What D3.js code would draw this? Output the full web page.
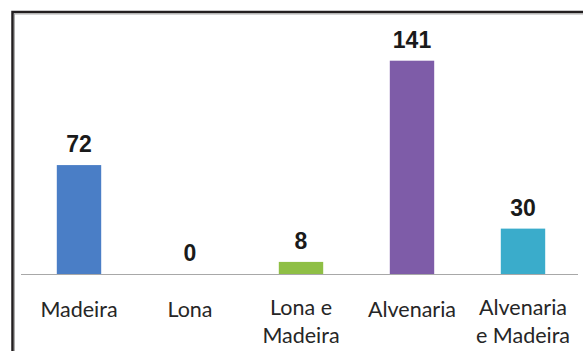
<!DOCTYPE html>
<html>
<head>
<meta charset="utf-8">
<script src="https://cdn.jsdelivr.net/npm/d3@7"></script>
<style>
  html, body { margin: 0; padding: 0; background: #fff; }
  svg { display: block; }
</style>
</head>
<body>
<svg id="chart" width="583" height="351"></svg>
<script>
const categories = ["Madeira", "Lona", "Lona e Madeira", "Alvenaria", "Alvenaria e Madeira"];
const labelLines = [["Madeira"], ["Lona"], ["Lona e", "Madeira"], ["Alvenaria"], ["Alvenaria", "e Madeira"]];
const values = [72, 0, 8, 141, 30];
const colors = ["#4a7ec6", "#8fbf45", "#8fbf45", "#7e5ca8", "#3aaccb"];

const W = 583, H = 351;
const svg = d3.select("#chart");

// frame
svg.append("rect").attr("x", 12.5).attr("y", 12).attr("width", W + 20).attr("height", H + 20)
  .attr("fill", "none").attr("stroke", "#231f20").attr("stroke-width", 2.5);
svg.append("rect").attr("x", 14.5).attr("y", 14).attr("width", W + 20).attr("height", H + 20)
  .attr("fill", "none").attr("stroke", "#9a9a9a").attr("stroke-width", 0.8);

const x = d3.scaleBand().domain(categories).range([23.5, 578.5]).paddingInner(0.6).paddingOuter(0.3);
const y = d3.scaleLinear().domain([0, 141]).range([274, 60.7]);

// bars
svg.append("g").selectAll("rect").data(categories).join("rect")
  .attr("x", d => x(d))
  .attr("width", x.bandwidth())
  .attr("y", (d, i) => y(values[i]))
  .attr("height", (d, i) => y(0) - y(values[i]))
  .attr("fill", (d, i) => colors[i]);

// baseline axis
const axis = d3.axisBottom(x).tickSize(0).tickFormat("");
const gx = svg.append("g").attr("transform", `translate(0,${y(0)})`).call(axis);
gx.select(".domain").attr("stroke", "#a8a8a8").attr("stroke-width", 1.2).attr("d", "M21,0.5H578");

// value labels
svg.append("g").selectAll("text").data(categories).join("text")
  .attr("x", d => x(d) + x.bandwidth() / 2)
  .attr("y", (d, i) => y(values[i]) - 13)
  .attr("text-anchor", "middle")
  .attr("font-family", "Liberation Sans, Arial, sans-serif")
  .attr("font-weight", "bold")
  .attr("font-size", 23)
  .attr("fill", "#1a1a1a")
  .text((d, i) => values[i]);

// category labels
const lg = svg.append("g");
categories.forEach((c, i) => {
  const lines = labelLines[i];
  const t = lg.append("text")
    .attr("x", x(c) + x.bandwidth() / 2)
    .attr("text-anchor", "middle")
    .attr("font-family", "Lato, sans-serif")
    .attr("font-size", 21.5)
    .attr("fill", "#262626");
  lines.forEach((l, j) => {
    t.append("tspan")
      .attr("x", x(c) + x.bandwidth() / 2)
      .attr("y", lines.length === 1 ? 317 : 315 + j * 28)
      .text(l);
  });
});
</script>
</body>
</html>
